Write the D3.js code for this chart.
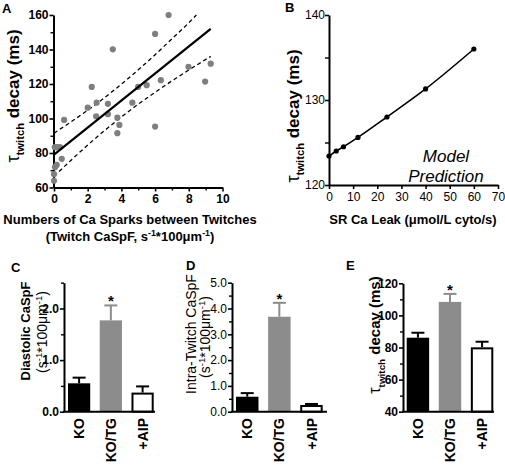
<!DOCTYPE html>
<html><head><meta charset="utf-8">
<script src="https://cdn.jsdelivr.net/npm/d3@7"></script>
<style>
body{margin:0;background:#fff;}
svg{display:block;}
text{font-family:"Liberation Sans",Arial,sans-serif;fill:#000;}
</style></head>
<body>
<script>
// ---------- Panel A data ----------
const aSparks = [0, 0, 0.06, 0.16, 0.46, 0.05, 0.2, 0.35, 0.6, 2.0, 2.24, 2.53, 2.5, 3.2, 3.2, 3.49, 3.76, 3.88, 3.76, 4.65, 4.99, 5.5, 6.0, 6.0, 6.34, 6.8, 7.98, 8.97, 9.3];
const aTau    = [63.9, 67.7, 71.8, 73.1, 76.6, 83.4, 83.4, 83.4, 99.2, 106.3, 118.3, 109.2, 101.3, 108.5, 102.5, 140.1, 100.5, 96.3, 91.5, 109.2, 118.3, 119.3, 149, 95.3, 122.2, 160, 130, 121.4, 131.8];
const aFitX = [0, 9.3];
const aFitY = [79, 152];
const aUpperX = [0, 1, 2, 3, 4, 5, 6, 7, 8, 8.45];
const aUpperY = [91.5, 98, 104.8, 112.1, 119.9, 128.2, 137, 146.2, 155.5, 160];
const aLowerX = [0, 1, 2, 3, 4, 5, 6, 7, 8, 9.3];
const aLowerY = [66.5, 75.7, 84.6, 93, 100.9, 108.3, 115.2, 121.8, 128.1, 136];
const aXTicks = [0, 2, 4, 6, 8, 10];
const aYTicks = [60, 80, 100, 120, 140, 160];

// ---------- Panel B data ----------
const bLeak = [0, 3, 6, 12, 24, 40, 60];
const bTau  = [123.4, 124, 124.5, 125.6, 128, 131.3, 136];
const bXTicks = [0, 10, 20, 30, 40, 50, 60, 70];
const bYTicks = [120, 130, 140];

// ---------- Bar panels ----------
const groups = ["KO", "KO/TG", "+AIP"];
const cMean = [0.55, 1.77, 0.37];
const cErr  = [0.11, 0.29, 0.12];
const dMean = [0.58, 3.68, 0.26];
const dErr  = [0.14, 0.54, 0.04];
const eMean = [86.1, 108.4, 80.1];
const eErr  = [3.1, 5.0, 3.5];
const cTicks = [0, 1, 2];
const dTicks = [0, 1, 2, 3, 4, 5];
const eTicks = [40, 60, 80, 100, 120];
const starGroup = "KO/TG";

const W = 505, H = 465;
const svg = d3.select("body").append("svg").attr("width", W).attr("height", H);
const FONT = '"Liberation Sans",Arial,sans-serif';

function styleAxis(g, bold, size) {
  g.select(".domain").attr("stroke", "#000").attr("stroke-width", 2);
  g.selectAll(".tick line").attr("stroke", "#000").attr("stroke-width", 1.6);
  g.selectAll(".tick text").attr("font-family", FONT).attr("font-size", size)
    .attr("font-weight", bold ? "bold" : "normal").attr("fill", "#000");
}
function minor(g, axisFn, scale, vals, size) {
  const a = axisFn(scale).tickValues(vals).tickSize(size).tickFormat("").tickSizeOuter(0);
  g.call(a);
  g.select(".domain").remove();
  g.selectAll(".tick line").attr("stroke", "#000").attr("stroke-width", 1.4);
}
function tauLabel(x, y, size) {
  const t = svg.append("text").attr("transform", `translate(${x},${y}) rotate(-90)`)
    .attr("text-anchor", "middle").attr("font-weight", "bold").attr("font-size", size);
  t.append("tspan").attr("font-weight", "normal").attr("font-size", size + 1).text("τ");
  t.append("tspan").attr("font-size", size * 0.66).attr("dy", size * 0.3).text("twitch");
  t.append("tspan").attr("dy", -size * 0.3).text(" decay (ms)");
  return t;
}
function supText(t, parts, size) {
  let last = false;
  parts.forEach(([s, sup]) => {
    const sp = t.append("tspan").text(s);
    if (sup) sp.attr("font-size", size * 0.68).attr("dy", -size * 0.38);
    else sp.attr("dy", last ? size * 0.38 : 0);
    last = sup;
  });
}
function panelLabel(txt, x, y) {
  svg.append("text").attr("x", x).attr("y", y).attr("font-weight", "bold").attr("font-size", 13).text(txt);
}

// ================= Panel A =================
{
  const x = d3.scaleLinear().domain([0, 10]).range([54, 222.5]);
  const y = d3.scaleLinear().domain([60, 160]).range([187.5, 15]);
  const g = svg.append("g");
  minor(g.append("g").attr("transform", "translate(0,187.5)"), d3.axisBottom, x, [1, 3, 5, 7, 9], 3);
  minor(g.append("g").attr("transform", "translate(53.5,0)"), d3.axisLeft, y, [70, 90, 110, 130, 150], 3);
  const gx = g.append("g").attr("transform", "translate(0,187.5)")
    .call(d3.axisBottom(x).tickValues(aXTicks).tickSize(4).tickPadding(3).tickSizeOuter(0));
  styleAxis(gx, true, 12);
  const gy = g.append("g").attr("transform", "translate(53.5,0)")
    .call(d3.axisLeft(y).tickValues(aYTicks).tickSize(4).tickPadding(1).tickSizeOuter(0));
  styleAxis(gy, true, 12);

  const band = (xs, ys) => d3.line().curve(d3.curveMonotoneX)(xs.map((v, i) => [x(v), y(ys[i])]));
  g.append("path").attr("d", band(aUpperX, aUpperY)).attr("fill", "none").attr("stroke", "#000")
    .attr("stroke-width", 1.3).attr("stroke-dasharray", "4,3");
  g.append("path").attr("d", band(aLowerX, aLowerY)).attr("fill", "none").attr("stroke", "#000")
    .attr("stroke-width", 1.3).attr("stroke-dasharray", "4,3");
  g.selectAll("circle.a").data(aSparks).join("circle").attr("class", "a")
    .attr("cx", (d) => x(d)).attr("cy", (d, i) => y(aTau[i])).attr("r", 3.1).attr("fill", "#7f7f7f");
  g.append("line").attr("x1", x(aFitX[0])).attr("y1", y(aFitY[0])).attr("x2", x(aFitX[1])).attr("y2", y(aFitY[1]))
    .attr("stroke", "#000").attr("stroke-width", 2.2);

  tauLabel(19, 96, 17);
  svg.append("text").attr("x", 130).attr("y", 224).attr("text-anchor", "middle")
    .attr("font-weight", "bold").attr("font-size", 13).text("Numbers of Ca Sparks between Twitches");
  const t2 = svg.append("text").attr("x", 130).attr("y", 241).attr("text-anchor", "middle")
    .attr("font-weight", "bold").attr("font-size", 13);
  supText(t2, [["(Twitch CaSpF, s", false], ["-1", true], ["*100μm", false], ["-1", true], [")", false]], 13);
  panelLabel("A", 2, 13);
}

// ================= Panel B =================
{
  const x = d3.scaleLinear().domain([0, 70]).range([329, 498]);
  const y = d3.scaleLinear().domain([120, 140]).range([185, 15]);
  const g = svg.append("g");
  minor(g.append("g").attr("transform", "translate(329,0)"), d3.axisLeft, y, [125, 135], 4);
  const gx = g.append("g").attr("transform", "translate(0,185)")
    .call(d3.axisBottom(x).tickValues(bXTicks).tickSize(4).tickPadding(3).tickSizeOuter(0));
  styleAxis(gx, false, 12);
  const gy = g.append("g").attr("transform", "translate(329,0)")
    .call(d3.axisLeft(y).tickValues(bYTicks).tickSize(4).tickPadding(0).tickSizeOuter(0));
  styleAxis(gy, false, 12);
  g.selectAll(".tick text").attr("fill", "#222");

  const line = d3.line().curve(d3.curveMonotoneX).x((d) => x(d)).y((d, i) => y(bTau[i]));
  g.append("path").attr("d", line(bLeak)).attr("fill", "none").attr("stroke", "#000").attr("stroke-width", 1.6);
  g.selectAll("circle.b").data(bLeak).join("circle").attr("class", "b")
    .attr("cx", (d) => x(d)).attr("cy", (d, i) => y(bTau[i])).attr("r", 2.6).attr("fill", "#000");

  svg.append("text").attr("x", 446).attr("y", 162).attr("text-anchor", "middle")
    .attr("font-style", "italic").attr("font-size", 17).text("Model");
  svg.append("text").attr("x", 446).attr("y", 182).attr("text-anchor", "middle")
    .attr("font-style", "italic").attr("font-size", 17).text("Prediction");

  tauLabel(299, 116, 17);
  svg.append("text").attr("x", 413).attr("y", 224).attr("text-anchor", "middle")
    .attr("font-weight", "bold").attr("font-size", 13).text("SR Ca Leak (μmol/L cyto/s)");
  panelLabel("B", 285, 12);
}

// ================= Bar panels =================
function barPanel(opt) {
  const y = d3.scaleLinear().domain(opt.domain).range([411.7, opt.top]);
  const xb = d3.scaleBand().domain(groups).range(opt.barRange).paddingInner(0.3).paddingOuter(0);
  const g = svg.append("g");
  minor(g.append("g").attr("transform", `translate(${opt.axisX},0)`), d3.axisLeft, y, opt.minor, 3);
  const gy = g.append("g").attr("transform", `translate(${opt.axisX},0)`)
    .call(d3.axisLeft(y).tickValues(opt.ticks).tickSize(4).tickPadding(1).tickSizeOuter(0));
  styleAxis(gy, opt.boldTicks, 12);
  const fills = ["#000", "#8c8c8c", "#fff"];
  const errCol = ["#000", "#8c8c8c", "#000"];
  groups.forEach((k, i) => {
    const m = opt.mean[i], e = opt.err[i];
    const cx = xb(k) + xb.bandwidth() / 2;
    g.append("line").attr("x1", cx).attr("x2", cx).attr("y1", y(m)).attr("y2", y(m + e))
      .attr("stroke", errCol[i]).attr("stroke-width", 2);
    g.append("line").attr("x1", cx - 6.5).attr("x2", cx + 6.5).attr("y1", y(m + e)).attr("y2", y(m + e))
      .attr("stroke", errCol[i]).attr("stroke-width", 2);
    const inset = i === 2 ? 1 : 0;
    g.append("rect").attr("x", xb(k) + inset).attr("y", y(m) + inset)
      .attr("width", xb.bandwidth() - 2 * inset).attr("height", y(opt.domain[0]) - y(m) - inset)
      .attr("fill", fills[i]).attr("stroke", i === 2 ? "#000" : "none").attr("stroke-width", 2);
    if (k === starGroup) {
      g.append("text").attr("x", cx).attr("y", y(m + e) + 1).attr("text-anchor", "middle")
        .attr("font-weight", "bold").attr("font-size", 15).text("*");
    }
    g.append("text").attr("transform", `translate(${cx},418) rotate(-90)`).attr("text-anchor", "end")
      .attr("dy", "0.36em").attr("font-weight", "bold").attr("font-size", 14).text(k);
  });
  g.append("line").attr("x1", opt.axisX - 1).attr("x2", opt.axisEnd).attr("y1", 411.7).attr("y2", 411.7)
    .attr("stroke", "#000").attr("stroke-width", 2);
}

barPanel({ domain: [0, 2.5], top: 282.7, axisX: 64, axisEnd: 155, barRange: [68, 153.7],
  ticks: cTicks, minor: [0.5, 1.5, 2.5], mean: cMean, err: cErr, boldTicks: true });
barPanel({ domain: [0, 5], top: 282.7, axisX: 232, axisEnd: 327, barRange: [236, 322.7],
  ticks: dTicks, minor: [0.5, 1.5, 2.5, 3.5, 4.5], mean: dMean, err: dErr, boldTicks: false });
barPanel({ domain: [40, 120], top: 283.3, axisX: 403, axisEnd: 494, barRange: [406.7, 493.3],
  ticks: eTicks, minor: [50, 70, 90, 110], mean: eMean, err: eErr, boldTicks: true });

svg.append("text").attr("transform", "translate(30,331) rotate(-90)").attr("text-anchor", "middle")
  .attr("font-weight", "bold").attr("font-size", 13).text("Diastolic CaSpF");
{
  const t = svg.append("text").attr("transform", "translate(47,332) rotate(-90)").attr("text-anchor", "middle")
    .attr("font-size", 14);
  supText(t, [["(s", false], ["-1", true], ["*100μm", false], ["-1", true], [")", false]], 14);
}
svg.append("text").attr("transform", "translate(196,334) rotate(-90)").attr("text-anchor", "middle")
  .attr("font-size", 14).text("Intra-Twitch CaSpF");
{
  const t = svg.append("text").attr("transform", "translate(210,337) rotate(-90)").attr("text-anchor", "middle")
    .attr("font-size", 14);
  supText(t, [["(s", false], ["-1", true], ["*100μm", false], ["-1", true], [")", false]], 14);
}
tauLabel(380, 335, 15);

panelLabel("C", 11, 272);
panelLabel("D", 186, 270);
panelLabel("E", 346, 270);
</script>
</body></html>
